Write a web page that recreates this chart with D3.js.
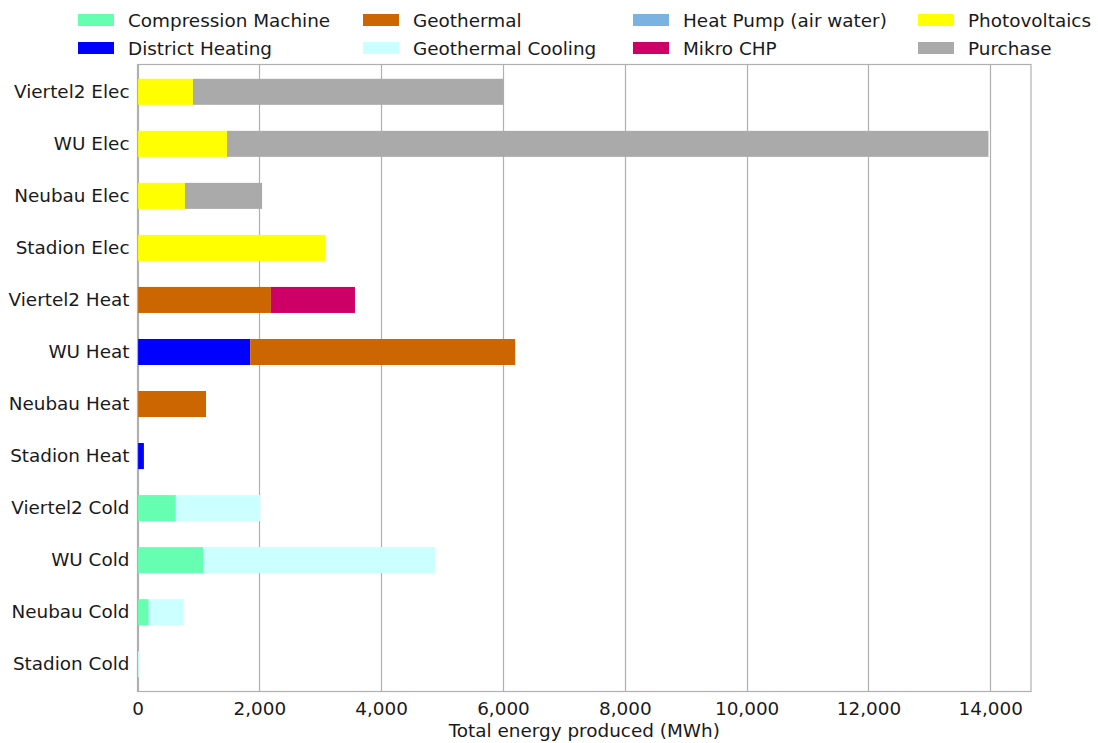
<!DOCTYPE html>
<html>
<head>
<meta charset="utf-8">
<script src="https://cdn.jsdelivr.net/npm/d3@7"></script>
<style>
  html, body { margin: 0; padding: 0; background: #fff; }
  svg { display: block; font-family: "DejaVu Sans", sans-serif; }
</style>
</head>
<body>
<svg id="chart" width="1098" height="743"></svg>
<script>
// Sites / energy carriers, top to bottom
const categories = [
  "Viertel2 Elec", "WU Elec", "Neubau Elec", "Stadion Elec",
  "Viertel2 Heat", "WU Heat", "Neubau Heat", "Stadion Heat",
  "Viertel2 Cold", "WU Cold", "Neubau Cold", "Stadion Cold"
];

// Technologies (stack order, left to right)
const technologies = [
  "Compression Machine", "District Heating", "Geothermal", "Geothermal Cooling",
  "Heat Pump (air water)", "Mikro CHP", "Photovoltaics", "Purchase"
];
const colors = ["#66ffb2", "#0000ff", "#cc6600", "#ccffff", "#7ab3e0", "#cc0066", "#ffff00", "#aaaaaa"];

// Energy produced per technology (MWh), one value per category
const compressionMachine = [0, 0, 0, 0, 0, 0, 0, 0, 630, 1080, 185, 0];
const districtHeating    = [0, 0, 0, 0, 0, 1850, 0, 105, 0, 0, 0, 0];
const geothermal         = [0, 0, 0, 0, 2190, 4350, 1125, 0, 0, 0, 0, 0];
const geothermalCooling  = [0, 0, 0, 0, 0, 0, 0, 0, 1385, 3805, 575, 35];
const heatPumpAirWater   = [0, 0, 0, 0, 0, 0, 0, 0, 0, 0, 0, 0];
const mikroCHP           = [0, 0, 0, 0, 1380, 0, 0, 0, 0, 0, 0, 0];
const photovoltaics      = [910, 1470, 780, 3085, 0, 0, 0, 0, 0, 0, 0, 0];
const purchase           = [5100, 12500, 1265, 0, 0, 0, 0, 0, 0, 0, 0, 0];

const xTicks = [0, 2000, 4000, 6000, 8000, 10000, 12000, 14000];
const xLabel = "Total energy produced (MWh)";

const seriesValues = [
  compressionMachine, districtHeating, geothermal, geothermalCooling,
  heatPumpAirWater, mikroCHP, photovoltaics, purchase
];

const rows = categories.map((c, i) => {
  const r = { category: c };
  technologies.forEach((t, j) => { r[t] = seriesValues[j][i]; });
  return r;
});

const FS = 18.4;
const svg = d3.select("#chart");
const margin = { left: 137.5, right: 1031, top: 64.5, bottom: 691.5 };

const totals = rows.map(r => d3.sum(technologies, t => r[t]));
const xMax = d3.max(totals) * 1.05;

const x = d3.scaleLinear().domain([0, xMax]).range([margin.left, margin.right]);
const y = d3.scaleBand().domain(categories)
  .range([margin.top, margin.bottom])
  .paddingInner(0.5).paddingOuter(0.275);

const stack = d3.stack().keys(technologies);
const stacked = stack(rows);

// vertical grid lines
svg.append("g")
  .selectAll("line")
  .data(xTicks)
  .join("line")
  .attr("x1", d => Math.round(x(d)) + 0.5)
  .attr("x2", d => Math.round(x(d)) + 0.5)
  .attr("y1", margin.top)
  .attr("y2", margin.bottom)
  .attr("stroke", "#b0b0b0")
  .attr("stroke-width", 1.2);

// stacked bars
svg.append("g")
  .selectAll("g")
  .data(stacked)
  .join("g")
  .attr("fill", (d, i) => colors[i])
  .selectAll("rect")
  .data(d => d)
  .join("rect")
  .attr("x", d => x(d[0]))
  .attr("width", d => Math.max(0, x(d[1]) - x(d[0])))
  .attr("y", d => y(d.data.category))
  .attr("height", y.bandwidth());

// frame
svg.append("rect")
  .attr("x", margin.left)
  .attr("y", margin.top)
  .attr("width", margin.right - margin.left)
  .attr("height", margin.bottom - margin.top)
  .attr("fill", "none")
  .attr("stroke", "#b0b0b0")
  .attr("stroke-width", 1.2);

// x axis
const xAxis = d3.axisBottom(x)
  .tickValues(xTicks)
  .tickSize(0)
  .tickPadding(10)
  .tickFormat(d3.format(","));
const gx = svg.append("g")
  .attr("transform", `translate(0,${margin.bottom})`)
  .call(xAxis);
gx.select(".domain").remove();
gx.selectAll("text").attr("font-size", FS).attr("fill", "#1a1a1a")
  .attr("font-family", "DejaVu Sans, sans-serif");

// y axis
const yAxis = d3.axisLeft(y).tickSize(0).tickPadding(8);
const gy = svg.append("g")
  .attr("transform", `translate(${margin.left},0)`)
  .call(yAxis);
gy.select(".domain").remove();
gy.selectAll("text").attr("font-size", FS).attr("fill", "#1a1a1a")
  .attr("font-family", "DejaVu Sans, sans-serif");

// x axis title
svg.append("text")
  .attr("x", (margin.left + margin.right) / 2)
  .attr("y", 737)
  .attr("text-anchor", "middle")
  .attr("font-size", FS)
  .attr("fill", "#1a1a1a")
  .text(xLabel);

// legend: 4 columns, 2 rows, filled column by column
const legendCols = [78, 363, 633, 918];
const legendRows = [20, 48];
const legend = svg.append("g");
technologies.forEach((t, i) => {
  const cx = legendCols[Math.floor(i / 2)];
  const cy = legendRows[i % 2];
  const g = legend.append("g").attr("transform", `translate(${cx},${cy})`);
  g.append("rect")
    .attr("x", 0).attr("y", -6)
    .attr("width", 36).attr("height", 12)
    .attr("fill", colors[i]);
  g.append("text")
    .attr("x", 50).attr("y", 6.5)
    .attr("font-size", FS)
    .attr("fill", "#1a1a1a")
    .text(t);
});
</script>
</body>
</html>
